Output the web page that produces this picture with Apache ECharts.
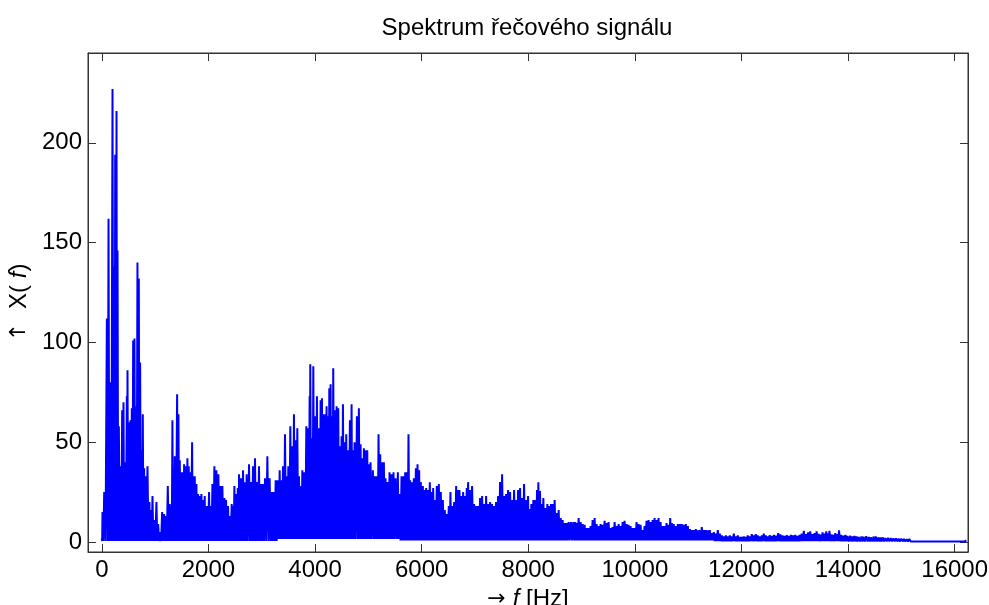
<!DOCTYPE html>
<html>
<head>
<meta charset="utf-8">
<script src="https://cdn.jsdelivr.net/npm/echarts@6/dist/echarts.min.js"></script>
<style>
html,body{margin:0;padding:0;background:#fff;}
#chart{width:989px;height:605px;}
</style>
</head>
<body>
<div id="chart"></div>
<script>
// Spectrum peaks: [frequency Hz, |X(f)|]
const band0to2k = [[0,2],[12,15],[44,25],[94,112],[125,162],[156,80],[200,227],[231,138],[250,194],[275,216],[294,146],[319,58],[350,38],[381,66],[406,70],[431,40],[469,73],[481,86],[506,60],[537,61],[562,67],[587,101],[612,102],[637,68],[668,140],[693,132],[718,90],[743,46],[768,64],[793,37],[818,33],[856,38],[893,20],[918,16],[950,23],[981,11],[1024,20],[1056,9],[1093,5],[1131,15],[1168,14],[1199,13],[1237,28],[1274,19],[1299,18],[1324,61],[1343,35],[1368,43],[1412,74],[1437,64],[1462,41],[1493,35],[1518,35],[1543,39],[1568,38],[1605,42],[1630,38],[1655,35],[1693,50],[1718,33],[1743,33],[1774,29],[1805,24],[1837,23],[1868,24],[1899,21],[1930,23]];
const band2kto4k = [[1949,18],[1974,18],[2011,25],[2043,18],[2074,29],[2111,38],[2149,36],[2186,34],[2224,28],[2261,28],[2299,22],[2330,21],[2367,18],[2399,13],[2436,19],[2461,18],[2486,28],[2524,24],[2550,27],[2574,34],[2611,32],[2649,36],[2686,30],[2717,34],[2761,39],[2799,30],[2836,38],[2873,42],[2911,30],[2948,38],[2986,29],[3023,29],[3061,32],[3105,43],[3148,32],[3186,25],[3223,25],[3261,31],[3298,31],[3336,36],[3373,31],[3398,38],[3436,54],[3473,33],[3498,38],[3536,58],[3573,48],[3604,64],[3636,51],[3667,57],[3698,33],[3729,28],[3761,36],[3798,35],[3836,58],[3873,57],[3898,73]];
const band4kto8k = [[3910,89],[3942,52],[3967,88],[3998,63],[4035,73],[4073,57],[4104,71],[4129,72],[4160,64],[4191,64],[4216,68],[4242,63],[4267,77],[4291,79],[4316,63],[4341,87],[4373,66],[4404,68],[4435,67],[4466,48],[4498,53],[4523,69],[4554,50],[4585,54],[4616,46],[4654,61],[4685,69],[4710,46],[4741,50],[4785,63],[4822,67],[4854,49],[4885,42],[4916,47],[4947,46],[4979,46],[5010,39],[5041,40],[5085,36],[5122,33],[5160,33],[5191,54],[5222,44],[5260,40],[5291,40],[5322,32],[5360,30],[5397,35],[5435,34],[5472,35],[5510,32],[5553,35],[5585,24],[5622,33],[5660,33],[5691,35],[5722,35],[5753,54],[5784,31],[5822,30],[5853,32],[5891,37],[5922,39],[5953,36],[5984,30],[6022,28],[6059,26],[6084,27],[6122,26],[6153,30],[6184,25],[6216,27],[6247,21],[6284,28],[6322,29],[6359,25],[6397,21],[6434,16],[6472,14],[6509,18],[6540,25],[6572,18],[6609,20],[6647,28],[6678,26],[6709,26],[6747,23],[6778,25],[6809,23],[6846,27],[6871,30],[6909,26],[6946,28],[6984,19],[7021,18],[7059,18],[7096,22],[7134,23],[7171,19],[7209,23],[7246,19],[7284,20],[7321,19],[7359,18],[7396,20],[7434,23],[7471,30],[7509,34],[7546,23],[7584,24],[7621,26],[7659,25],[7696,21],[7734,26],[7771,21],[7809,26],[7846,27],[7884,22],[7921,29],[7958,21],[7996,23]];
const band8kto12k = [[8020,16.5],[8058,19],[8095,21],[8133,21],[8164,26],[8189,30],[8220,25.5],[8252,19],[8283,22],[8320,17],[8358,19],[8395,18],[8426,19],[8458,19],[8495,21],[8533,14.5],[8570,16],[8608,12],[8645,11],[8683,9.5],[8720,9.5],[8758,10],[8801,10],[8845,10],[8883,10],[8908,9.5],[8945,12],[8983,10],[9020,9],[9057,8.6],[9095,7],[9132,7],[9170,8],[9207,11],[9245,12],[9282,9],[9320,8],[9357,9],[9395,8.6],[9432,10.6],[9470,9.5],[9507,10],[9545,7],[9582,7.5],[9620,10],[9657,8],[9695,9],[9732,8],[9770,10],[9807,10.6],[9844,9],[9882,8.6],[9919,8],[9957,7],[9994,7],[10032,10],[10069,9],[10107,8.6],[10144,6],[10182,8],[10219,10.6],[10257,11],[10294,10],[10332,11],[10369,12],[10407,11],[10444,12],[10482,10],[10519,8],[10557,8],[10594,9.5],[10632,8.6],[10663,12],[10694,9.5],[10731,9],[10769,8],[10807,9],[10844,9],[10882,9],[10919,8.6],[10957,9],[10994,8],[11032,6.5],[11069,6],[11107,6],[11144,6.5],[11181,5.8],[11219,6],[11256,7.5],[11294,6],[11331,6],[11369,5.8],[11406,6],[11444,4.5],[11481,5],[11519,4.2],[11556,6],[11594,4.2],[11631,3.3],[11669,2.8],[11706,3.3],[11744,2.8],[11781,3.3],[11819,2.8],[11856,4.2],[11894,2.8],[11931,3.3],[11969,2.5],[12006,2.5],[12044,2.8],[12081,2.5],[12118,3.3],[12156,2.8],[12193,4],[12231,3.3],[12268,4],[12306,3.3],[12343,2.8],[12381,3.3],[12418,4.2],[12456,3.3],[12493,2.8]];
const band12kto16k = [[12530,3.4],[12570,3.0],[12610,3.6],[12650,3.2],[12690,4.4],[12730,3.8],[12770,3.3],[12810,3.0],[12850,3.4],[12890,3.1],[12930,3.6],[12970,3.3],[13010,3.5],[13050,3.0],[13090,3.6],[13130,4.2],[13170,5.6],[13210,4.0],[13250,4.8],[13290,5.3],[13330,3.9],[13370,4.5],[13410,5.3],[13450,4.1],[13490,3.7],[13520,4.8],[13560,4.2],[13590,5.3],[13630,4.4],[13650,5.6],[13690,3.8],[13720,3.6],[13760,4.5],[13800,3.9],[13830,5.8],[13870,3.6],[13910,3.2],[13950,3.5],[13990,3.0],[14040,3.2],[14080,2.8],[14120,3.0],[14160,2.8],[14200,2.5],[14250,2.8],[14290,2.6],[14340,2.9],[14390,2.5],[14430,2.3],[14480,2.7],[14520,2.8],[14570,2.3],[14610,2.2],[14650,2.3],[14700,2.0],[14750,2.1],[14800,1.9],[14850,1.8],[14900,1.8],[14950,1.6],[15000,1.7],[15050,1.5],[15100,1.4],[15150,1.5],[15200,1.3],[15260,1.2],[15320,1.3],[15380,1.2],[15440,1.1],[15500,1.3],[15560,1.0],[15620,1.0],[15680,1.1],[15740,1.2],[15800,1.0],[15860,1.2],[15920,1.0],[15980,1.0],[16040,1.1],[16100,1.0],[16160,1.2],[16220,0.8]];
// Lower edge of the dense trace: [from frequency Hz, floor |X(f)|]
const floorLevels = [[0,0.5],[3300,1.5],[5600,0.8],[11500,0.4],[14000,0.3]];
// Tick labels
const xTicks = [0,2000,4000,6000,8000,10000,12000,14000,16000];
const yTicks = [0,50,100,150,200];

function floorAt(f){ let v = floorLevels[0][1]; for (const [s,lv] of floorLevels){ if (f >= s) v = lv; } return v; }
const peaks = [].concat(band0to2k, band2kto4k, band4kto8k, band8kto12k, band12kto16k);
const trace = [];
for (let i = 0; i < peaks.length; i++) {
  trace.push(peaks[i]);
  if (i < peaks.length - 1) {
    const fm = (peaks[i][0] + peaks[i+1][0]) / 2;
    trace.push([fm, floorAt(fm)]);
  }
}

const FONT = '"Liberation Sans", Arial, Helvetica, sans-serif';
const ARROW_FONT = '"DejaVu Sans", sans-serif';
const axisCol = '#333';
const NB = '\u00a0';
const plain = v => String(v);
const chart = echarts.init(document.getElementById('chart'), null, {renderer:'canvas'});
const tickCommon = {show:true, inside:true, length:8, lineStyle:{color:axisCol, width:1}};
const nameRich = {
  a:{fontFamily:ARROW_FONT, fontSize:22, color:'#000'},
  n:{fontFamily:FONT, fontSize:24, color:'#000'},
  i:{fontFamily:FONT, fontSize:24, fontStyle:'italic', color:'#000'}
};
chart.setOption({
  animation:false,
  backgroundColor:'#fff',
  title:{text:'Spektrum řečového signálu', left:522, textAlign:'center', top:11,
    textStyle:{fontFamily:FONT, fontSize:24, fontWeight:'normal', color:'#000'}},
  grid:{left:88, right:21, top:53, bottom:53, outerBoundsMode:'none', containLabel:false,
    show:true, borderColor:axisCol, borderWidth:1, backgroundColor:'#fff'},
  xAxis:[{
    type:'value', min:-260, max:16250, position:'bottom',
    name:'{a|→' + NB + '}{i|f' + NB + '}{n|[Hz]}', nameLocation:'middle', nameGap:30,
    nameTextStyle:{rich:nameRich},
    axisLine:{show:true, onZero:false, lineStyle:{color:axisCol, width:1}},
    axisTick:Object.assign({customValues:xTicks}, tickCommon),
    axisLabel:{customValues:xTicks, formatter:plain, margin:6, fontFamily:FONT, fontSize:24, color:'#000'},
    splitLine:{show:false}
  },{
    type:'value', min:-260, max:16250, position:'top',
    axisLine:{show:true, onZero:false, lineStyle:{color:axisCol, width:1}},
    axisTick:Object.assign({customValues:xTicks}, tickCommon),
    axisLabel:{show:false}, splitLine:{show:false}
  }],
  yAxis:[{
    type:'value', min:-5, max:245, position:'left',
    name:'{a|↑' + NB + NB + '}{n|X(' + NB + '}{i|f}{n|)}', nameLocation:'middle', nameGap:50, nameRotate:90,
    nameTextStyle:{rich:nameRich},
    axisLine:{show:true, onZero:false, lineStyle:{color:axisCol, width:1}},
    axisTick:Object.assign({customValues:yTicks}, tickCommon),
    axisLabel:{customValues:yTicks, formatter:plain, margin:6, fontFamily:FONT, fontSize:24, color:'#000'},
    splitLine:{show:false}
  },{
    type:'value', min:-5, max:245, position:'right',
    axisLine:{show:true, onZero:false, lineStyle:{color:axisCol, width:1}},
    axisTick:Object.assign({customValues:yTicks}, tickCommon),
    axisLabel:{show:false}, splitLine:{show:false}
  }],
  series:[{
    type:'line', data:trace, xAxisIndex:0, yAxisIndex:0,
    showSymbol:false, symbol:'none', sampling:null, clip:true,
    lineStyle:{color:'#0000ff', width:2}, z:3
  }]
});
</script>
</body>
</html>
